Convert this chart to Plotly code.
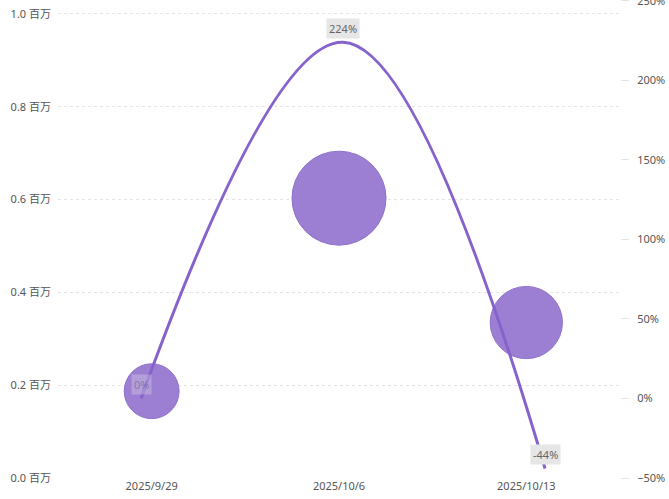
import plotly.graph_objects as go

# datos
fechas = ["2025/9/29", "2025/10/6", "2025/10/13"]
valor_millones = [0.187, 0.603, 0.335]     # eje izquierdo, 百万
tamano_burbuja = [30, 88, 52]              # valor que define el area de la burbuja
crecimiento = [0, 224, -44]                # eje derecho, %
etiquetas_crec = ["0%", "224%", "-44%"]

color_linea = "#8663cc"
color_burbuja = "#9779d0"
fuente = "Noto Sans, Noto Sans CJK SC, sans-serif"

fig = go.Figure()

fig.add_trace(go.Scatter(
    x=fechas, y=crecimiento, xaxis="x2", yaxis="y2",
    mode="lines", line=dict(color=color_linea, width=3, shape="spline", smoothing=1.1),
    hoverinfo="skip", showlegend=False
))

fig.add_trace(go.Scatter(
    x=fechas, y=valor_millones,
    mode="markers",
    marker=dict(size=tamano_burbuja, sizemode="area",
                sizeref=2 * max(tamano_burbuja) / 94 ** 2,
                color=color_burbuja, opacity=0.95,
                line=dict(color="#8a6acb", width=1)),
    showlegend=False
))

for i, (f, c, t) in enumerate(zip(fechas, crecimiento, etiquetas_crec)):
    fig.add_annotation(
        x=f, y=c, xref="x2", yref="y2", text=t, showarrow=False,
        yanchor="bottom", yshift=3,
        font=dict(size=11, color="#666666", family=fuente),
        bgcolor="#e6e6e6", borderpad=2,
        opacity=0.3 if i == 0 else 1
    )

fig.update_layout(
    width=669, height=499,
    margin=dict(l=58, r=49, t=0, b=21, autoexpand=False),
    plot_bgcolor="white", paper_bgcolor="white",
    font=dict(family=fuente, size=11, color="#666666"),
    xaxis=dict(type="category", range=[-0.5, 2.5], showgrid=False, showline=False,
               ticks="", automargin=False, tickfont=dict(size=11, color="#555555")),
    xaxis2=dict(type="category", overlaying="x", range=[-0.411, 2.371], visible=False),
    yaxis=dict(range=[0, 1.030], tickmode="linear", tick0=0, dtick=0.2,
               tickformat=".1f", ticksuffix=" 百万", showgrid=True,
               gridcolor="#e3e3e3", griddash="dot", zeroline=False, showline=False,
               automargin=False, ticklabelstandoff=6,
               tickfont=dict(size=11, color="#555555")),
    yaxis2=dict(overlaying="y", side="right", range=[-50, 250.5],
                tickmode="linear", tick0=-50, dtick=50, ticksuffix="%",
                ticklabeloverflow="allow", automargin=False, ticklabelstandoff=6,
                showgrid=False, zeroline=False, showline=False,
                ticks="outside", ticklen=8, tickcolor="#e3e3e3",
                tickfont=dict(size=11, color="#555555"))
)

fig.write_html("out.html", config={"displayModeBar": False},
               post_script="document.body.style.margin='0px';")
